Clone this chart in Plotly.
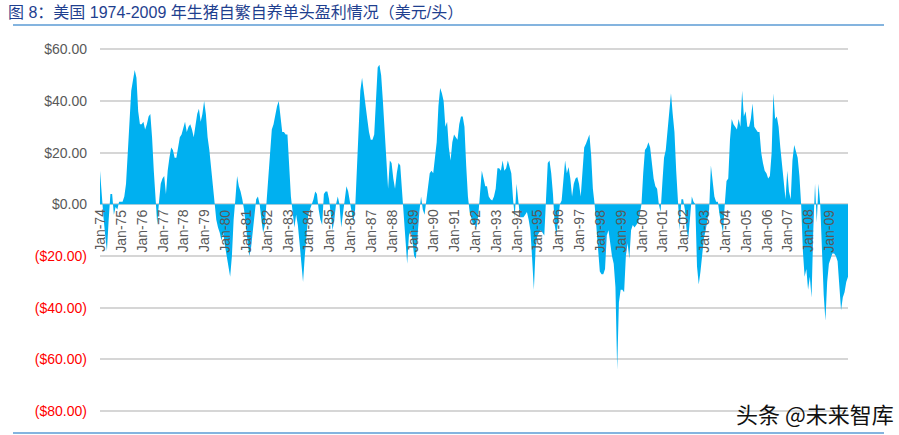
import plotly.graph_objects as go

# Monthly profit per head (USD), Jan-1974 .. Dec-2009
y1974 = [13, 2, -5, -12, -18, -6, 4, 4, -4, -1, -2, 1]
y1975 = [1, 1, 3, 8, 20, 35, 44, 48, 52, 49, 36, 31]
y1976 = [31, 32, 29, 31, 34, 35, 26, 13, 0, -8, 1, 8]
y1977 = [10, 11, 4, 13, 18, 22, 21, 18, 18, 22, 26, 27]
y1978 = [30, 32, 28, 30, 31, 29, 26, 31, 35, 37, 32, 35]
y1979 = [40, 35, 26, 21, 14, 5, -1, -6, -9, -11, -14, -11]
y1980 = [-16, -20, -24, -28, -20, -6, 2, 11, 7, 5, 2, -2]
y1981 = [-8, -13, -20, -17, -10, -2, 2, 3, 0, -6, -11, -8]
y1982 = [2, 10, 22, 29, 31, 35, 38, 40, 33, 28, 28, 27]
y1983 = [27, 15, 3, -3, -9, -4, -8, -15, -22, -30, -20, -10]
y1984 = [-4, -2, 0, 2, 5, 4, -2, -6, -8, 4, 5, 5]
y1985 = [2, -5, -10, -6, 0, 3, 0, -9, -4, 3, 7, 5]
y1986 = [1, -4, -7, -2, 12, 30, 44, 49, 43, 38, 33, 28]
y1987 = [25, 25, 27, 40, 53, 54, 50, 40, 30, 18, 6, 17]
y1988 = [16, 10, 6, 12, 16, 15, 5, -5, -14, -23, -12, -10]
y1989 = [-14, -20, -21, -10, -3, 3, -2, -4, 2, 8, 12, 13]
y1990 = [12, 18, 24, 38, 45, 43, 40, 30, 32, 22, 17, 24]
y1991 = [27, 26, 25, 31, 34, 34, 30, 15, 3, -3, -6, -8]
y1992 = [-8, -9, -4, 3, 13, 10, 7, 7, 3, 2, 1.5, 3]
y1993 = [6, 14, 14, 13, 17, 13, 14, 17, 14, 12, 2, -5]
y1994 = [8, 1, -5, -5, -5, -4, -3, -6, -10, -21, -33, -17]
y1995 = [-12, -11, -10, -11, -12, 2, 16, 17, 12, 4, -8, -12]
y1996 = [-6, 0, 1.5, 10, 17, 12, 14.5, 10, 3, 8, 10, 10.6]
y1997 = [8, 3, 15, 22, 23.5, 25, 27, 19, 6, 0, -9, -20]
y1998 = [-26, -27, -27, -25, -12, -10, -16, -20, -23, -32, -64, -38]
y1999 = [-33, -33, -34, -20, -15, -21, -10, -8, -9, -8, -7, -4]
y2000 = [0, 12, 21, 22, 24, 22, 16, 10, 7, 6, 0, -3]
y2001 = [8, 18, 21, 28, 34, 43, 35, 28, 13, 2, -10, 2]
y2002 = [2, -2, -10, -13, -5, 3, 1, 0, -24, -31, -26, -20]
y2003 = [-13, -10, -6, -2, 15, 9, 3, 1, 1, -4, -7, -11]
y2004 = [0, 9, 10, 25, 33, 31, 30, 29, 33, 30, 44, 34]
y2005 = [36, 30, 30, 33, 39, 30, 29, 28, 28, 20, 16, 13]
y2006 = [12, 10, 11, 20, 43, 33, 34, 30, 22, 16, 8, 2]
y2007 = [13, 5, 2, 17, 23, 20, 18, 11, 0, -18, -28, -25]
y2008 = [-33, -28, -36, -10, 8, -7, 8, 0, -20, -35, -45, -30]
y2009 = [-23, -21, -19, -19, -20, -22, -32, -41, -36, -34, -30, -28]

years = list(range(1974, 2010))
yearly = [y1974, y1975, y1976, y1977, y1978, y1979, y1980, y1981, y1982,
          y1983, y1984, y1985, y1986, y1987, y1988, y1989, y1990, y1991,
          y1992, y1993, y1994, y1995, y1996, y1997, y1998, y1999, y2000,
          y2001, y2002, y2003, y2004, y2005, y2006, y2007, y2008, y2009]
values = [v for yr in yearly for v in yr]
x_idx = list(range(len(values)))

x_tick_labels = ["Jan-%02d" % (y % 100) for y in years]
y_tick_vals = [60, 40, 20, 0, -20, -40, -60, -80]
y_tick_text = ["$60.00", "$40.00", "$20.00", "$0.00",
               "<span style='color:#FF0000'>($20.00)</span>",
               "<span style='color:#FF0000'>($40.00)</span>",
               "<span style='color:#FF0000'>($60.00)</span>",
               "<span style='color:#FF0000'>($80.00)</span>"]

W, H = 899, 435
L, R, T, B = 100, 51, 48, 20
GRID = "#D6D6D6"


def px(x):
    return (x - L) / (W - L - R)


def py(y):
    return (H - B - y) / (H - T - B)


fig = go.Figure()
fig.add_trace(go.Scatter(
    x=x_idx, y=values, mode="lines", fill="tozeroy",
    line=dict(width=0, color="#00B0F0"), fillcolor="#00B0F0",
    hoverinfo="skip", showlegend=False,
))

annotations = []
for i, lab in enumerate(x_tick_labels):
    annotations.append(dict(
        x=i * 12, y=0, xref="x", yref="y", text=lab, showarrow=False,
        textangle=-90, xanchor="center", yanchor="top", yshift=-3,
        font=dict(family="Liberation Sans, Arial", size=14, color="#595959"),
    ))

annotations.append(dict(
    x=px(6), y=py(12), xref="paper", yref="paper", xanchor="left", yanchor="middle",
    text="图 8：美国 1974-2009 年生猪自繁自养单头盈利情况（美元/头）", showarrow=False,
    font=dict(family="Liberation Sans, Noto Sans CJK SC", size=16, color="#1F3F8F"),
))
annotations.append(dict(
    x=px(896), y=py(413), xref="paper", yref="paper", xanchor="right", yanchor="middle",
    text="头条 @未来智库", showarrow=False,
    font=dict(family="Noto Sans CJK SC", size=22, color="#111111"),
))

shapes = [
    dict(type="line", xref="paper", yref="paper", x0=px(13), x1=px(884),
         y0=py(25), y1=py(25), line=dict(color="#5B9BD5", width=1.5)),
    dict(type="line", xref="paper", yref="paper", x0=px(13), x1=px(884),
         y0=py(433), y1=py(433), line=dict(color="#5B9BD5", width=1.5)),
    # bottom gridline (-80), drawn in paper coordinates so it is never clipped
    dict(type="line", xref="paper", yref="paper", x0=0, x1=1, y0=py(411),
         y1=py(411), layer="above", line=dict(color=GRID, width=2)),
]

fig.update_layout(
    width=W, height=H,
    margin=dict(l=L, r=R, t=T, b=B),
    paper_bgcolor="white", plot_bgcolor="white",
    annotations=annotations, shapes=shapes,
    xaxis=dict(range=[0, len(values) - 1], showgrid=False, zeroline=False,
               showticklabels=False, showline=False, ticks=""),
    yaxis=dict(range=[-81.5, 60.5], tickvals=y_tick_vals, ticktext=y_tick_text,
               showgrid=True, gridcolor=GRID, gridwidth=1.5,
               zeroline=False, showline=False, ticks="",
               ticklabelstandoff=12,
               tickfont=dict(family="Liberation Sans, Arial", size=14, color="#595959")),
)

fig.write_html("out.html", config={"displayModeBar": False},
               post_script="document.body.style.margin='0';")
